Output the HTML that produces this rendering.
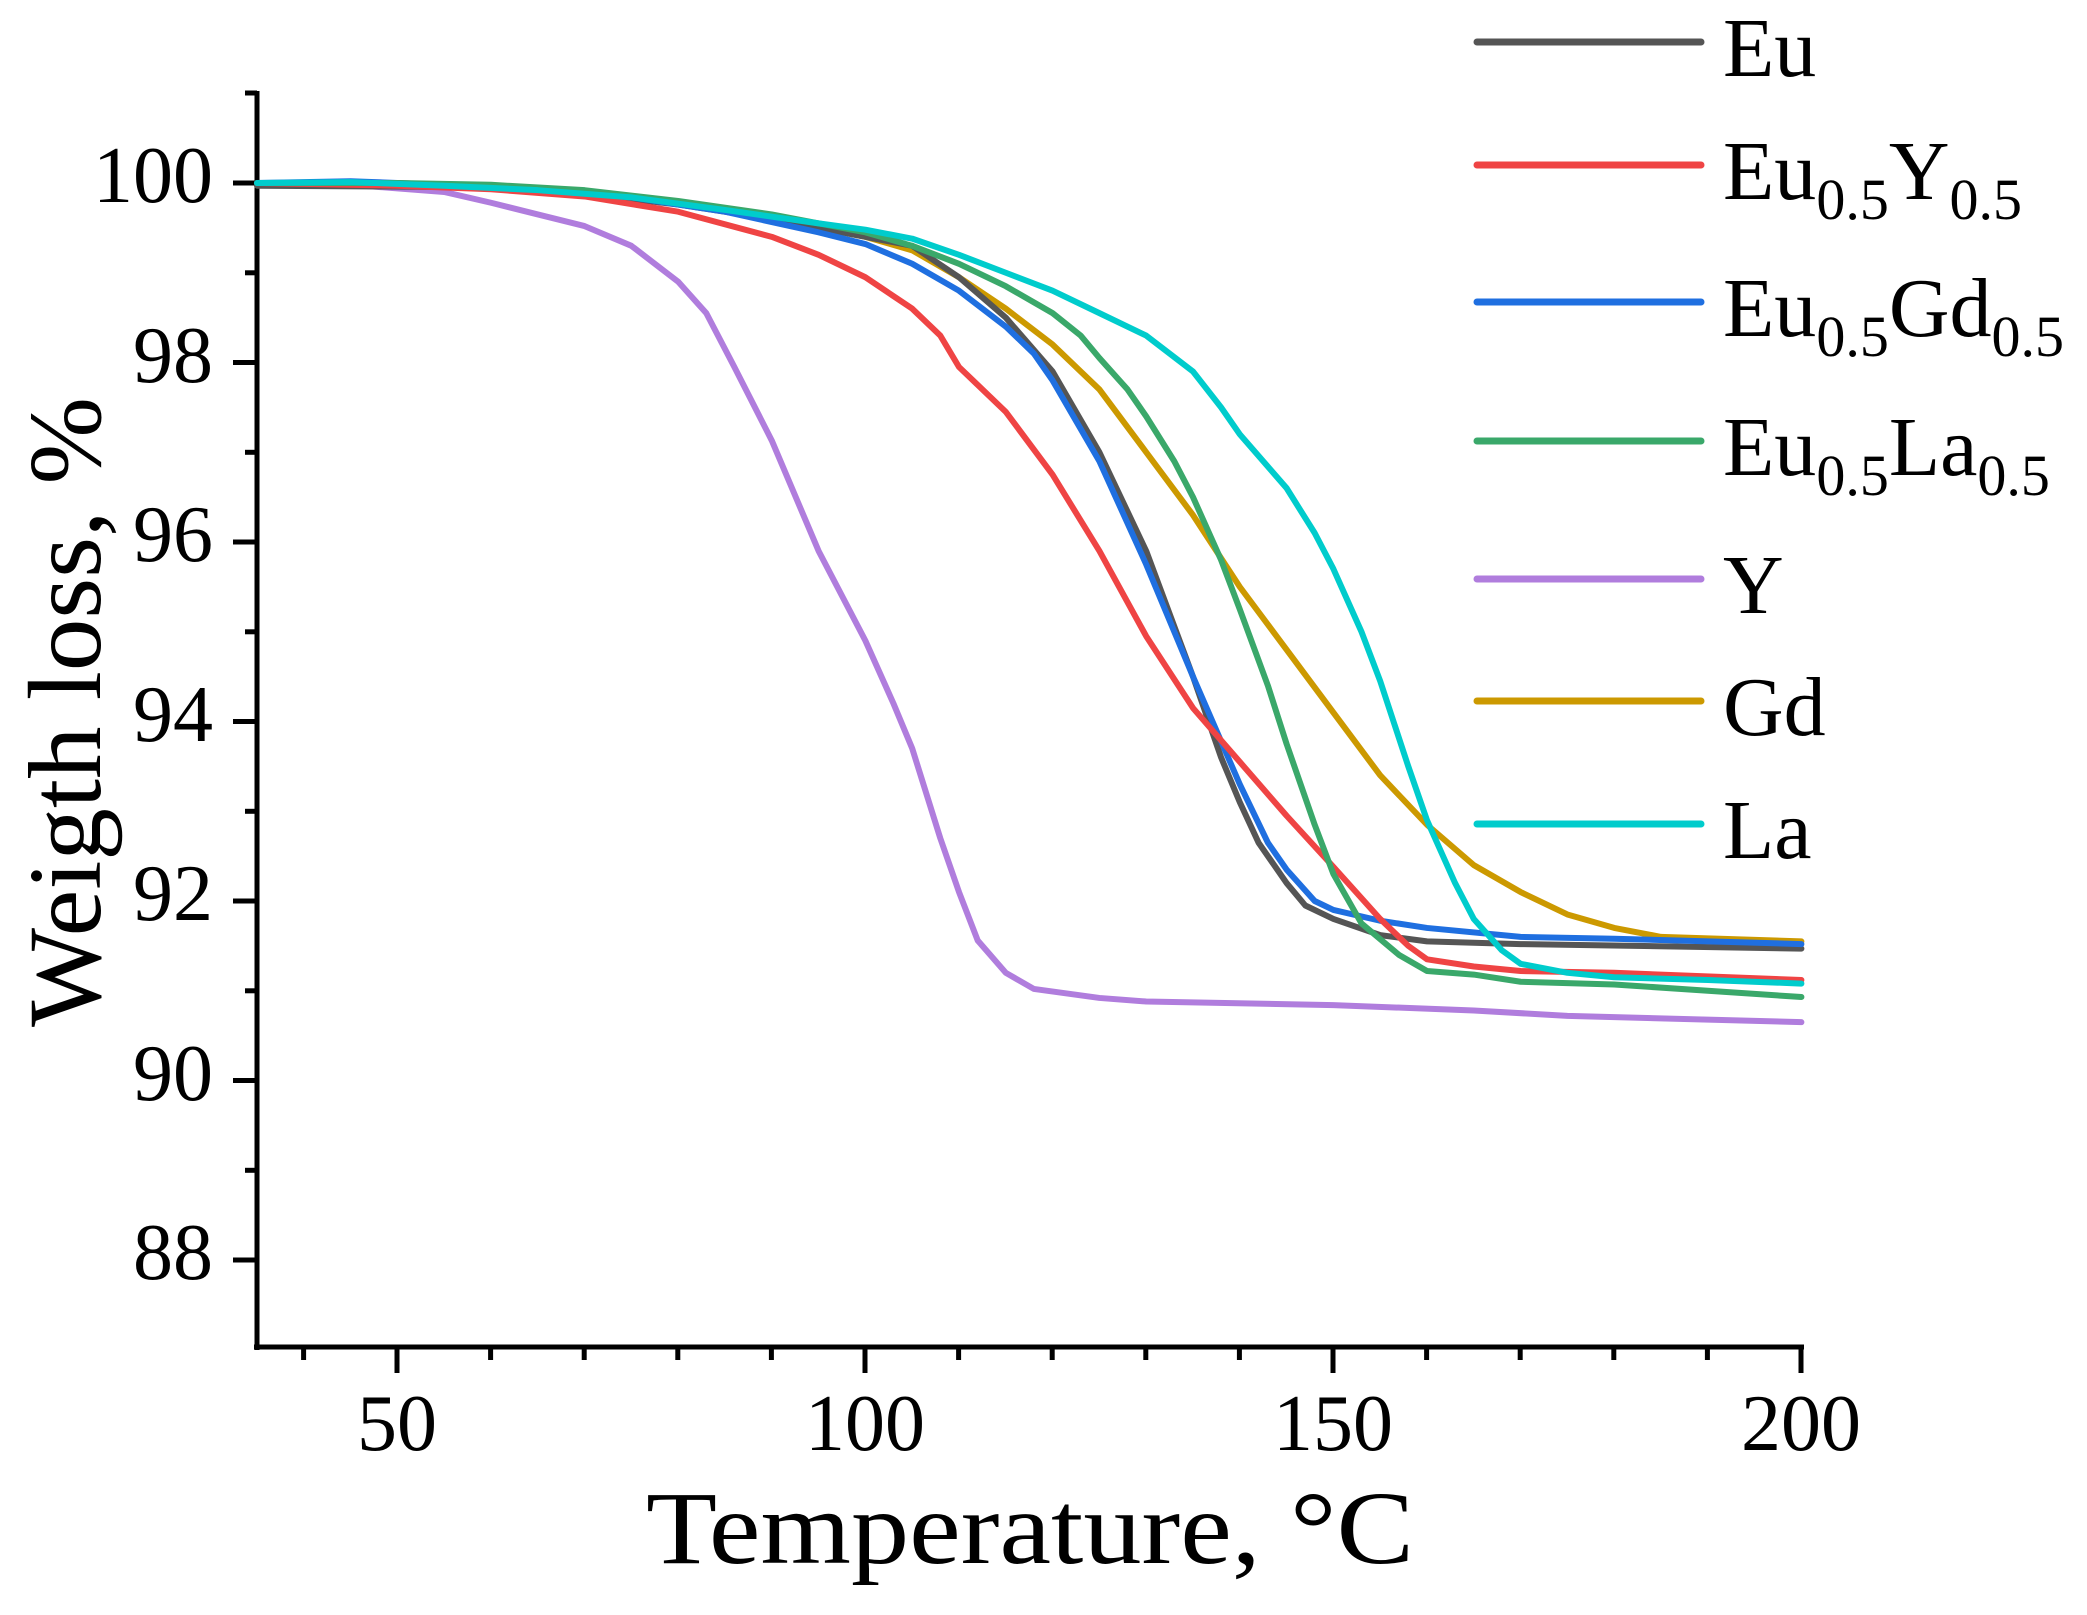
<!DOCTYPE html>
<html><head><meta charset="utf-8"><style>
html,body{margin:0;padding:0;background:#fff;}
svg{display:block;}
text{font-family:"Liberation Serif",serif;fill:#000;}
</style></head><body>
<svg width="2087" height="1615" viewBox="0 0 2087 1615" xmlns="http://www.w3.org/2000/svg">
<g stroke="#000" stroke-width="5" fill="none">
<line x1="257" y1="91" x2="257" y2="1350"/>
<line x1="254" y1="1347" x2="1804" y2="1347"/>
<line x1="233" y1="183" x2="257" y2="183"/>
<line x1="233" y1="362.5" x2="257" y2="362.5"/>
<line x1="233" y1="542" x2="257" y2="542"/>
<line x1="233" y1="721.5" x2="257" y2="721.5"/>
<line x1="233" y1="901" x2="257" y2="901"/>
<line x1="233" y1="1080.5" x2="257" y2="1080.5"/>
<line x1="233" y1="1260" x2="257" y2="1260"/>
<line x1="245" y1="93" x2="257" y2="93"/>
<line x1="245" y1="272.8" x2="257" y2="272.8"/>
<line x1="245" y1="452.3" x2="257" y2="452.3"/>
<line x1="245" y1="631.8" x2="257" y2="631.8"/>
<line x1="245" y1="811.3" x2="257" y2="811.3"/>
<line x1="245" y1="990.8" x2="257" y2="990.8"/>
<line x1="245" y1="1170.3" x2="257" y2="1170.3"/>
<line x1="397" y1="1347" x2="397" y2="1373"/>
<line x1="865" y1="1347" x2="865" y2="1373"/>
<line x1="1333" y1="1347" x2="1333" y2="1373"/>
<line x1="1801" y1="1347" x2="1801" y2="1373"/>
<line x1="303.6" y1="1347" x2="303.6" y2="1360"/>
<line x1="490.6" y1="1347" x2="490.6" y2="1360"/>
<line x1="584.2" y1="1347" x2="584.2" y2="1360"/>
<line x1="677.8" y1="1347" x2="677.8" y2="1360"/>
<line x1="771.4" y1="1347" x2="771.4" y2="1360"/>
<line x1="958.6" y1="1347" x2="958.6" y2="1360"/>
<line x1="1052.2" y1="1347" x2="1052.2" y2="1360"/>
<line x1="1145.8" y1="1347" x2="1145.8" y2="1360"/>
<line x1="1239.4" y1="1347" x2="1239.4" y2="1360"/>
<line x1="1426.6" y1="1347" x2="1426.6" y2="1360"/>
<line x1="1520.2" y1="1347" x2="1520.2" y2="1360"/>
<line x1="1613.8" y1="1347" x2="1613.8" y2="1360"/>
<line x1="1707.4" y1="1347" x2="1707.4" y2="1360"/>
</g>
<g font-size="80" text-anchor="end">
<text x="213" y="202">100</text>
<text x="213" y="382">98</text>
<text x="213" y="561">96</text>
<text x="213" y="741">94</text>
<text x="213" y="920">92</text>
<text x="213" y="1100">90</text>
<text x="213" y="1279">88</text>
</g>
<g font-size="80" text-anchor="middle">
<text x="397" y="1450">50</text>
<text x="865" y="1450">100</text>
<text x="1333" y="1450">150</text>
<text x="1801" y="1450">200</text>
</g>
<text x="1030" y="1563" font-size="104" text-anchor="middle" textLength="768" lengthAdjust="spacingAndGlyphs">Temperature, °C</text>
<text transform="translate(100,712) rotate(-90)" font-size="104" text-anchor="middle" textLength="630" lengthAdjust="spacingAndGlyphs">Weigth loss, %</text>

<g transform="translate(-70.6,9158) scale(9.36,-89.75)" fill="none" stroke-width="6" stroke-linejoin="round" stroke-linecap="round">
<polyline vector-effect="non-scaling-stroke" stroke="#b07ddd" points="35,100 45,99.98 55,99.9 60,99.78 65,99.65 70,99.52 75,99.3 80,98.9 83,98.55 86,97.95 90,97.13 95,95.9 100,94.9 103,94.2 105,93.7 108,92.7 110,92.1 112,91.56 115,91.2 118,91.02 125,90.92 130,90.88 150,90.84 165,90.78 175,90.72 200,90.65"/>
<polyline vector-effect="non-scaling-stroke" stroke="#cc9900" points="35,100 50,99.98 60,99.95 70,99.88 80,99.78 90,99.6 100,99.4 105,99.25 110,98.95 115,98.6 120,98.2 125,97.7 130,97.0 135,96.3 140,95.5 145,94.8 150,94.1 155,93.4 160,92.85 165,92.4 170,92.1 175,91.85 180,91.7 185,91.6 200,91.55"/>
<polyline vector-effect="non-scaling-stroke" stroke="#555555" points="35,99.97 50,99.96 60,99.95 70,99.88 80,99.76 90,99.6 100,99.4 105,99.3 110,98.95 115,98.5 120,97.9 125,97.0 130,95.9 135,94.5 138,93.6 140,93.1 142,92.65 145,92.2 147,91.95 150,91.8 155,91.62 160,91.55 170,91.52 200,91.47"/>
<polyline vector-effect="non-scaling-stroke" stroke="#1f6fe0" points="35,100 45,100.02 55,99.98 65,99.92 75,99.84 85,99.68 95,99.45 100,99.32 105,99.1 110,98.8 115,98.4 118,98.1 120,97.8 125,96.9 130,95.75 135,94.5 140,93.3 143,92.65 145,92.35 148,92.0 150,91.9 155,91.78 160,91.7 170,91.6 180,91.58 200,91.52"/>
<polyline vector-effect="non-scaling-stroke" stroke="#ef4444" points="35,100 50,99.97 60,99.93 70,99.85 80,99.68 90,99.4 95,99.2 100,98.95 105,98.6 108,98.3 110,97.95 115,97.45 120,96.75 125,95.9 130,94.95 135,94.15 140,93.55 145,92.95 150,92.38 155,91.8 158,91.5 160,91.35 165,91.27 170,91.22 180,91.2 200,91.12"/>
<polyline vector-effect="non-scaling-stroke" stroke="#3aa86a" points="35,100 50,100 60,99.98 70,99.92 80,99.8 90,99.65 100,99.45 105,99.3 110,99.1 115,98.85 120,98.55 123,98.3 125,98.05 128,97.7 130,97.4 133,96.9 135,96.5 138,95.8 140,95.25 143,94.4 145,93.75 148,92.85 150,92.3 153,91.75 157,91.4 160,91.22 165,91.18 170,91.1 180,91.07 190,91.0 200,90.93"/>
<polyline vector-effect="non-scaling-stroke" stroke="#00cccc" points="35,100 45,100.01 55,99.97 65,99.92 75,99.84 85,99.7 95,99.55 100,99.48 105,99.38 110,99.2 115,99.0 120,98.8 125,98.55 130,98.3 135,97.9 138,97.5 140,97.2 145,96.6 148,96.1 150,95.7 153,95.0 155,94.45 158,93.5 160,92.9 163,92.2 165,91.8 168,91.45 170,91.3 175,91.2 180,91.15 190,91.12 200,91.08"/>
</g>

<g stroke-width="7" stroke-linecap="round">
<line x1="1477" y1="42" x2="1701" y2="42" stroke="#555555"/>
<line x1="1477" y1="165" x2="1701" y2="165" stroke="#ef4444"/>
<line x1="1477" y1="302" x2="1701" y2="302" stroke="#1f6fe0"/>
<line x1="1477" y1="441" x2="1701" y2="441" stroke="#3aa86a"/>
<line x1="1477" y1="579" x2="1701" y2="579" stroke="#b07ddd"/>
<line x1="1477" y1="701" x2="1701" y2="701" stroke="#cc9900"/>
<line x1="1477" y1="824" x2="1701" y2="824" stroke="#00cccc"/>
</g>
<g font-size="84">
<text x="1723" y="76">Eu</text>
<text x="1723" y="199">Eu<tspan font-size="58" dy="20">0.5</tspan><tspan dy="-20">Y</tspan><tspan font-size="58" dy="20">0.5</tspan></text>
<text x="1723" y="336">Eu<tspan font-size="58" dy="20">0.5</tspan><tspan dy="-20">Gd</tspan><tspan font-size="58" dy="20">0.5</tspan></text>
<text x="1723" y="475">Eu<tspan font-size="58" dy="20">0.5</tspan><tspan dy="-20">La</tspan><tspan font-size="58" dy="20">0.5</tspan></text>
<text x="1723" y="613">Y</text>
<text x="1723" y="735">Gd</text>
<text x="1723" y="858">La</text>
</g>
</svg>
</body></html>
